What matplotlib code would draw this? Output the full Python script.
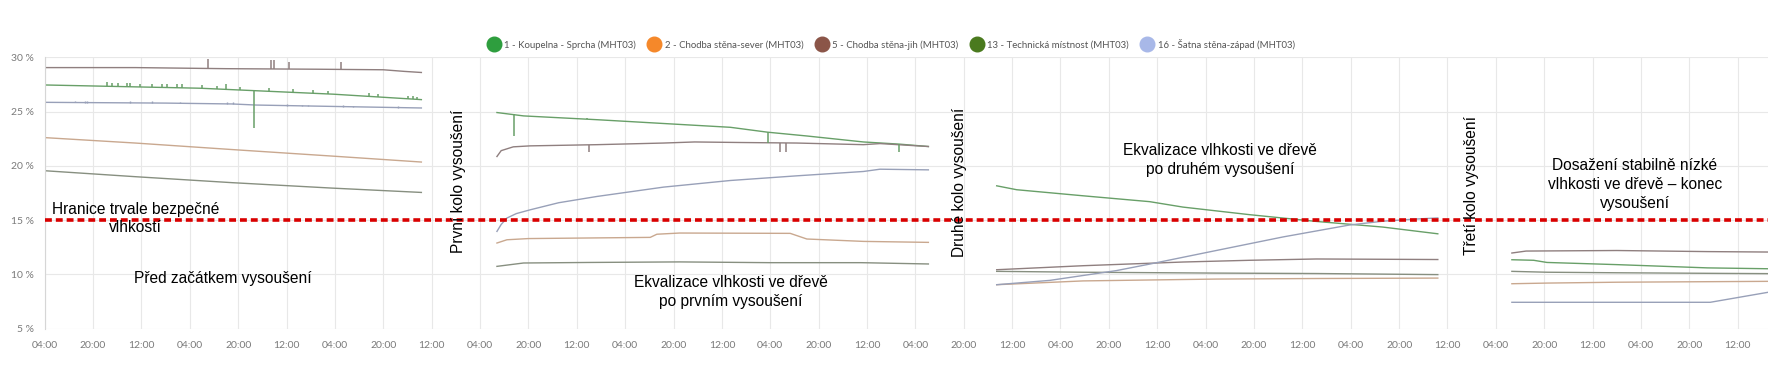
"""
Vlhkost dřeva během vysoušení - průběh po kolech (MHT03 senzory).
"""
import numpy as np
import matplotlib
matplotlib.use("Agg")
import matplotlib.pyplot as plt
from matplotlib.lines import Line2D
from matplotlib.ticker import FuncFormatter

nan = np.nan

# hours since first tick (04:00), segments separated by nan
S1_H = [0, 51.4, 69.0, 95.5, 124.6, nan,
        149.6, 158.4, 182.7, 204.7, 226.8, 239.1, 252.1, 270.8, 282.7, 292.3, nan,
        314.9, 321.5, 343.5, 365.5, 376.5, 398.6, 420.6, 442.6, 460.8, nan,
        485.3, 492.5, 496.9, 520, 550, 570]
S1_V = [27.45, 27.15, 26.93, 26.6, 26.1, nan,
        24.91, 24.6, 24.25, 23.9, 23.55, 23.1, 22.75, 22.2, 22.0, 21.78, nan,
        18.16, 17.8, 17.24, 16.7, 16.2, 15.5, 14.88, 14.36, 13.74, nan,
        11.35, 11.3, 11.1, 10.9, 10.6, 10.52]

S2_H = [0, 30, 62, 95, 124.6, nan,
        149.6, 152.9, 160, 200.3, 202.5, 210, 246.6, 252.1, 270.8, 292.3, nan,
        314.9, 343.5, 387.5, 420.6, 460.8, nan,
        485.3, 496.9, 520, 570]
S2_V = [22.6, 22.1, 21.5, 20.9, 20.35, nan,
        12.89, 13.19, 13.3, 13.41, 13.7, 13.81, 13.78, 13.26, 13.04, 12.95, nan,
        9.05, 9.4, 9.57, 9.62, 9.66, nan,
        9.14, 9.2, 9.28, 9.36]

S5_H = [0, 30, 60, 90, 112, 119, 124.6, nan,
        149.6, 151, 155, 160.6, 182.7, 204.7, 215, 230, 248.8, 270.8, 276.3, 292.3, nan,
        314.9, 343.5, 376.5, 398.6, 420.6, 460.8, nan,
        485.3, 490, 520, 550, 570]
S5_V = [29.05, 29.05, 28.95, 28.9, 28.85, 28.7, 28.6, nan,
        20.86, 21.4, 21.75, 21.84, 21.95, 22.1, 22.2, 22.15, 22.1, 21.95, 22.05, 21.78, nan,
        10.43, 10.8, 11.14, 11.3, 11.42, 11.37, nan,
        11.97, 12.15, 12.2, 12.1, 12.06]

S13_H = [0, 30, 62, 95, 124.6, nan,
         149.6, 158.4, 180, 210, 240, 270, 292.3, nan,
         314.9, 343.5, 387.5, 420.6, 460.8, nan,
         485.3, 496.9, 520, 550, 570]
S13_V = [19.55, 19.0, 18.45, 17.95, 17.55, nan,
         10.74, 11.05, 11.1, 11.15, 11.08, 11.08, 10.96, nan,
         10.28, 10.2, 10.12, 10.08, 9.98, nan,
         10.28, 10.2, 10.15, 10.1, 10.07]

S16_H = [0, 40, 62, 70, 100, 124.6, nan,
         149.6, 151, 152.9, 156, 160.6, 170, 182.7, 204.7, 226.8, 248.8, 270.8, 276.3, 292.3, nan,
         314.9, 332.5, 343.5, 354.5, 365.5, 387.5, 409.6, 431.6, 442.6, 453.6, 460.8, nan,
         485.3, 550.9, 570]
S16_V = [25.85, 25.78, 25.7, 25.6, 25.45, 25.33, nan,
         13.96, 14.6, 15.19, 15.6, 15.95, 16.6, 17.18, 18.04, 18.65, 19.08, 19.48, 19.69, 19.63, nan,
         9.05, 9.45, 9.9, 10.35, 10.95, 12.2, 13.45, 14.55, 14.9, 15.1, 15.2, nan,
         7.43, 7.43, 8.35]

# sensor glitches (hour, low, high)
S1_SPIKE_H = [20.5, 22.2, 24.4, 27.1, 28.2, 31.5, 35.4, 38.7, 40.4, 43.7, 45.3, 51.9,
              57.1, 60.0, 64.6, 69.4, 74.3, 82.2, 88.9, 93.8, 107.4, 110.2, 120.3,
              121.9, 123.1, 155.4, 179.4, 239.1, 282.7]
S1_SPIKE_LO = [27.33, 27.32, 27.31, 27.29, 27.28, 27.26, 27.24, 27.22, 27.21, 27.19, 27.18, 27.15,
               27.08, 27.05, 26.99, 23.5, 26.86, 26.76, 26.68, 26.62, 26.4, 26.35, 26.18,
               26.15, 26.13, 22.76, 24.28, 22.09, 21.32]
S1_SPIKE_HI = [27.68, 27.67, 27.62, 27.64, 27.6, 27.58, 27.56, 27.54, 27.53, 27.5, 27.5, 27.45,
               27.38, 27.55, 27.28, 26.93, 27.15, 27.05, 26.95, 26.9, 26.68, 26.62, 26.42,
               26.4, 26.38, 24.75, 24.45, 23.1, 22.0]

S5_SPIKE_H = [53.9, 74.8, 75.9, 80.9, 97.9, 180.2, 243.1, 245.3]
S5_SPIKE_LO = [28.98, 28.93, 28.93, 28.92, 28.9, 21.26, 21.26, 21.26]
S5_SPIKE_HI = [29.8, 29.72, 29.72, 29.6, 29.6, 21.95, 22.1, 22.1]

S16_SPIKE_H = [10.0, 13.3, 14.1, 28.2, 35.4, 44.8, 60.2, 62.4, 80.0, 85.0, 87.2, 98.8, 102.1, 116.8]
S16_SPIKE_LO = [25.84, 25.83, 25.83, 25.81, 25.8, 25.77, 25.71, 25.7, 25.55, 25.52, 25.51, 25.45, 25.43, 25.37]
S16_SPIKE_HI = [26.0, 25.98, 25.98, 25.95, 25.93, 25.9, 25.85, 25.85, 25.68, 25.65, 25.65, 25.57, 25.55, 25.5]

LABELS = ["1 - Koupelna - Sprcha (MHT03)", "2 - Chodba stěna-sever (MHT03)",
          "5 - Chodba stěna-jih (MHT03)", "13 - Technická místnost (MHT03)",
          "16 - Šatna stěna-západ (MHT03)"]
MARKER_COLORS = ["#2e9e3e", "#f5882a", "#8b5548", "#4a7a1e", "#a8b8e8"]
LINE_COLORS = ["#689f68", "#c9a88f", "#8f7f7f", "#878f80", "#98a0b8"]

THRESHOLD = 15
ANNOTATIONS = [
    (30, 15.15, "Hranice trvale bezpečné\nvlhkostí", 0),
    (59, 9.6, "Před začátkem vysoušení", 0),
    (137, 18.6, "První kolo vysoušení", 90),
    (227, 8.4, "Ekvalizace vlhkosti ve dřevě\npo prvním vysoušení", 0),
    (302.5, 18.5, "Druhé kolo vysoušení", 90),
    (388.7, 20.5, "Ekvalizace vlhkosti ve dřevě\npo druhém vysoušení", 0),
    (472, 18.2, "Třetí kolo vysoušení", 90),
    (526, 18.3, "Dosažení stabilně nízké\nvlhkosti ve dřevě – konec\nvysoušení", 0),
]

plt.rcParams["font.family"] = ["Lato", "DejaVu Sans"]

fig = plt.figure(figsize=(17.86, 3.91), dpi=100)
ax = fig.add_axes([0.025, 0.1594, 0.9649, 0.6941])

series = [(S1_H, S1_V), (S2_H, S2_V), (S5_H, S5_V), (S13_H, S13_V), (S16_H, S16_V)]
for (h, v), c in zip(series, LINE_COLORS):
    ax.plot(h, v, color=c, lw=1.0, solid_joinstyle="round")

ax.vlines(S1_SPIKE_H, S1_SPIKE_LO, S1_SPIKE_HI, color=LINE_COLORS[0], lw=1.1)
ax.vlines(S5_SPIKE_H, S5_SPIKE_LO, S5_SPIKE_HI, color=LINE_COLORS[2], lw=1.1)
ax.vlines(S16_SPIKE_H, S16_SPIKE_LO, S16_SPIKE_HI, color=LINE_COLORS[4], lw=1.0)

ax.axhline(THRESHOLD, color="#d90000", lw=2.6, linestyle=(0, (1.9, 1.1)), zorder=5)

for x, y, txt, rot in ANNOTATIONS:
    ax.text(x, y, txt, rotation=rot, ha="center", va="center", fontsize=11.2,
            family=["Liberation Sans", "DejaVu Sans"], color="black",
            linespacing=1.32, zorder=6)

ax.set_xlim(0, 570)
ax.set_ylim(5, 30)
ax.set_xticks(np.arange(0, 561, 16))
ax.set_yticks(np.arange(5, 31, 5))
ax.xaxis.set_major_formatter(FuncFormatter(lambda h, _: f"{int((4 + h) % 24):02d}:00"))
ax.yaxis.set_major_formatter(FuncFormatter(lambda v, _: f"{v:.0f} %"))
ax.tick_params(length=0, labelsize=7.5, colors="#7a7a7a", pad=9)
ax.tick_params(axis="y", pad=8)
ax.grid(color="#e8e8e8", lw=0.8)
ax.set_axisbelow(True)
for s in ["top", "right", "bottom"]:
    ax.spines[s].set_visible(False)
ax.spines["left"].set_color("#d6d6d6")

handles = [Line2D([], [], marker="o", ls="", markersize=10.5, markerfacecolor=c,
                  markeredgecolor=c) for c in MARKER_COLORS]
fig.legend(handles, LABELS, loc="center", bbox_to_anchor=(0.498, 0.887), ncol=5,
           frameon=False, fontsize=6.9, handletextpad=0.1, columnspacing=0.9,
           labelcolor="#555555")

fig.savefig("out.png", dpi=100)
plt.close(fig)
